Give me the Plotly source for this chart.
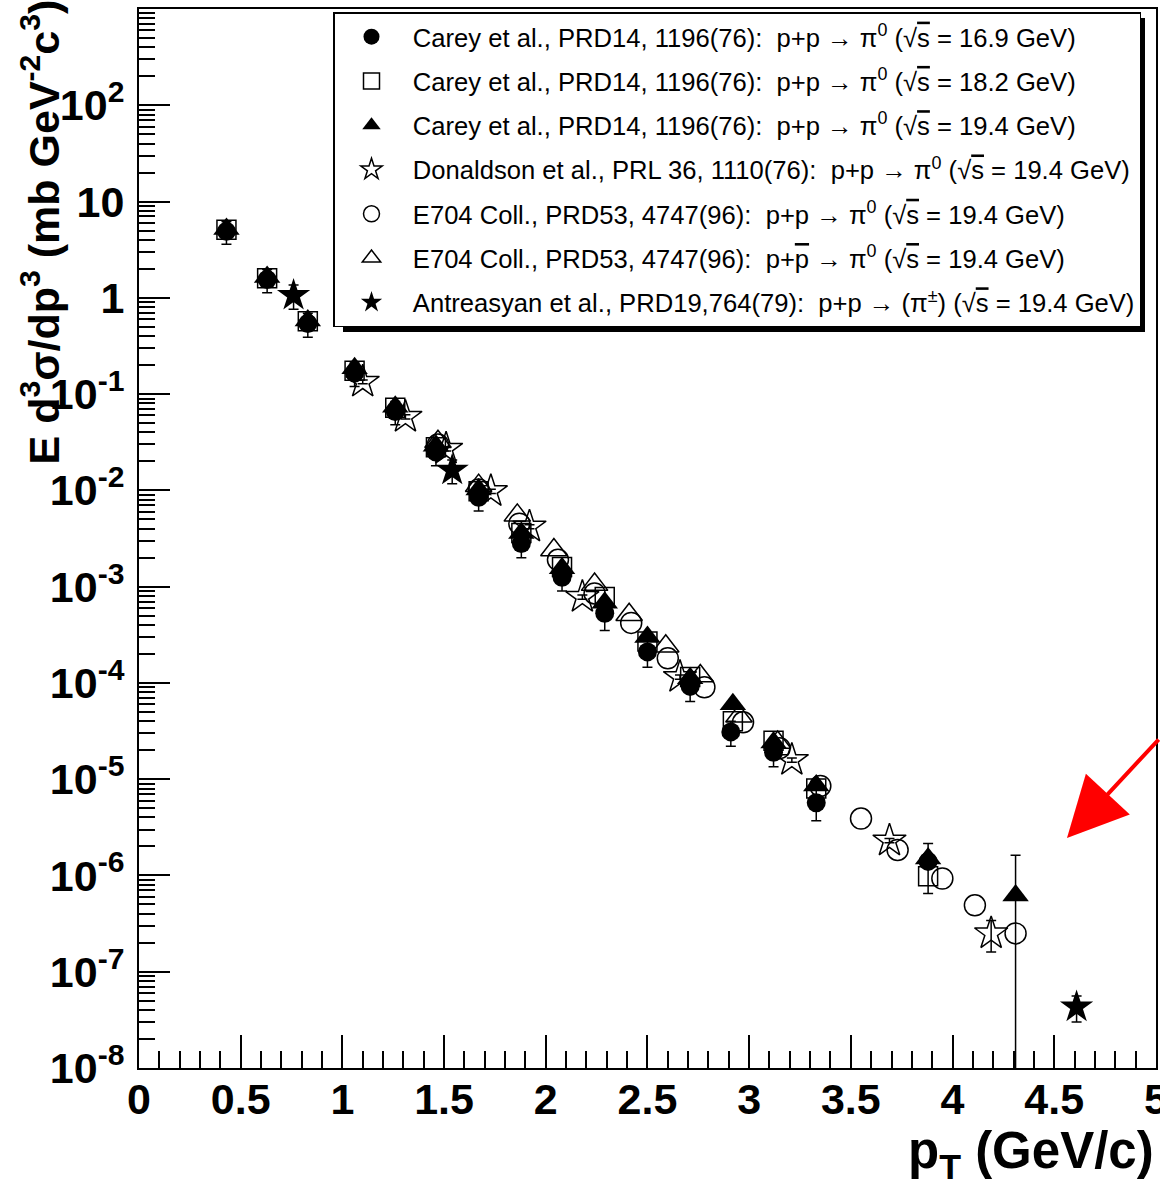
import plotly.graph_objects as go

# ---------------- data ----------------
pt_c169 = [0.43, 0.63, 0.83, 1.06, 1.26, 1.46, 1.67, 1.88, 2.08, 2.29, 2.50, 2.71, 2.91, 3.12, 3.33, 3.88]
y_c169 = [4.9, 1.55, 0.54, 0.165, 0.066, 0.025, 0.0085, 0.0028, 0.00125, 0.00053, 0.00021, 9.2e-5, 3.1e-5, 1.9e-5, 5.7e-6, 1.4e-6]
e_c169 = [1.3, 0.42, 0.15, 0.045, 0.018, 0.007, 0.0024, 0.0008, 0.00035, 0.00018, 6.5e-5, 2.8e-5, 9e-6, 5.5e-6, 2.0e-6, 7.5e-7]

pt_c182 = [0.43, 0.63, 0.83, 1.06, 1.26, 1.46, 1.67, 1.88, 2.08, 2.29, 2.50, 2.71, 2.92, 3.12, 3.33, 3.88]
y_c182 = [5.1, 1.6, 0.57, 0.175, 0.072, 0.028, 0.0098, 0.0036, 0.0016, 0.00078, 0.00027, 0.000115, 4.0e-5, 2.5e-5, 8.0e-6, 9.8e-7]

pt_c194 = [0.43, 0.63, 0.83, 1.06, 1.26, 1.46, 1.67, 1.88, 2.08, 2.29, 2.50, 2.71, 2.92, 3.12, 3.33, 3.88, 4.31]
y_c194 = [5.2, 1.65, 0.58, 0.185, 0.074, 0.029, 0.0102, 0.0036, 0.00155, 0.00068, 0.0003, 0.000112, 6.0e-5, 2.4e-5, 8.6e-6, 1.5e-6, 6.2e-7]
ep_c194 = [0.4, 0.13, 0.05, 0.015, 0.006, 0.0025, 0.0009, 0.0003, 0.00013, 6e-5, 2.5e-5, 1.0e-5, 5e-6, 2e-6, 8e-7, 1.5e-7, 1.0e-6]
em_c194 = [0.4, 0.13, 0.05, 0.015, 0.006, 0.0025, 0.0009, 0.0003, 0.00013, 6e-5, 2.5e-5, 1.0e-5, 5e-6, 2e-6, 8e-7, 1.5e-7, 6.2e-7]

pt_don = [1.10, 1.31, 1.51, 1.73, 1.92, 2.18, 2.66, 3.21, 3.69, 4.19]
y_don = [0.134, 0.058, 0.027, 0.0098, 0.0042, 0.00078, 0.000115, 1.58e-5, 2.3e-6, 2.5e-7]
e_don = [0.006, 0.003, 0.0013, 0.0005, 0.0002, 4e-5, 6e-6, 8e-7, 1.2e-7, 9e-8]

pt_e704pp = [1.47, 1.67, 1.87, 2.06, 2.24, 2.42, 2.60, 2.78, 2.97, 3.15, 3.35, 3.55, 3.73, 3.95, 4.11, 4.31]
y_e704pp = [0.030, 0.0102, 0.0045, 0.0019, 0.00085, 0.00042, 0.00018, 9.0e-5, 3.9e-5, 2.1e-5, 8.5e-6, 3.9e-6, 1.84e-6, 9.3e-7, 4.9e-7, 2.5e-7]

pt_e704pbar = [1.47, 1.67, 1.86, 2.04, 2.24, 2.41, 2.59, 2.76, 2.95, 3.14]
y_e704pbar = [0.032, 0.0112, 0.0055, 0.0024, 0.00105, 0.00051, 0.00024, 0.000118, 4.5e-5, 2.4e-5]

pt_ant = [0.76, 1.54, 4.61]
y_ant = [1.06, 0.0162, 4.3e-8]
e_ant = [0.3, 0.0045, 1.3e-8]

OL = "<span style='text-decoration:overline'>%s</span>"
names = [
    "Carey et al., PRD14, 1196(76):  p+p \u2192 \u03c0<sup>0</sup> (\u221a" + OL % "s" + " = 16.9 GeV)",
    "Carey et al., PRD14, 1196(76):  p+p \u2192 \u03c0<sup>0</sup> (\u221a" + OL % "s" + " = 18.2 GeV)",
    "Carey et al., PRD14, 1196(76):  p+p \u2192 \u03c0<sup>0</sup> (\u221a" + OL % "s" + " = 19.4 GeV)",
    "Donaldson et al., PRL 36, 1110(76):  p+p \u2192 \u03c0<sup>0</sup> (\u221a" + OL % "s" + " = 19.4 GeV)",
    "E704 Coll., PRD53, 4747(96):  p+p \u2192 \u03c0<sup>0</sup> (\u221a" + OL % "s" + " = 19.4 GeV)",
    "E704 Coll., PRD53, 4747(96):  p+" + OL % "p" + " \u2192 \u03c0<sup>0</sup> (\u221a" + OL % "s" + " = 19.4 GeV)",
    "Antreasyan et al., PRD19,764(79):  p+p \u2192 (\u03c0<sup>\u00b1</sup>) (\u221a" + OL % "s" + " = 19.4 GeV)",
]

ytick_vals = [1e-8, 1e-7, 1e-6, 1e-5, 1e-4, 1e-3, 1e-2, 1e-1, 1, 10, 100]
ytick_text = ["10<sup>-8</sup>", "10<sup>-7</sup>", "10<sup>-6</sup>", "10<sup>-5</sup>", "10<sup>-4</sup>",
              "10<sup>-3</sup>", "10<sup>-2</sup>", "10<sup>-1</sup>", "1", "10", "10<sup>2</sup>"]

# ---------------- layout geometry ----------------
W, H = 1160, 1183
L, R, T, B = 139, 4, 9, 115
PW, PH = W - L - R, H - T - B


def px(xp):
    return (xp - L) / PW


def py(yp):
    return (H - B - yp) / PH


PAD = "\u00a0\u00a0\u00a0"
fig = go.Figure()


def err(arr, arrm=None):
    d = dict(type="data", array=arr, color="black", thickness=1.5, width=5)
    if arrm is not None:
        d["symmetric"] = False
        d["arrayminus"] = arrm
    return d


common = dict(mode="markers")
fig.add_trace(go.Scatter(x=pt_c169, y=y_c169, name=PAD + names[0], error_y=err(e_c169),
                         marker=dict(symbol="circle", size=19, color="black"), legendgroup="a", **common))
fig.add_trace(go.Scatter(x=pt_c182, y=y_c182, name=PAD + names[1],
                         marker=dict(symbol="square-open", size=19, color="black", line=dict(width=1.5)),
                         legendgroup="b", **common))
fig.add_trace(go.Scatter(x=pt_c194, y=y_c194, name=PAD + names[2], error_y=err(ep_c194, em_c194),
                         marker=dict(symbol="triangle-up", size=23, color="black"), legendgroup="c", **common))
fig.add_trace(go.Scatter(x=pt_don, y=y_don, name=PAD + names[3], error_y=err(e_don),
                         marker=dict(symbol="star-open", size=25, color="black", line=dict(width=1.5)),
                         legendgroup="d", **common))
fig.add_trace(go.Scatter(x=pt_e704pp, y=y_e704pp, name=PAD + names[4],
                         marker=dict(symbol="circle-open", size=21, color="black", line=dict(width=1.5)),
                         legendgroup="e", **common))
fig.add_trace(go.Scatter(x=pt_e704pbar, y=y_e704pbar, name=PAD + names[5],
                         marker=dict(symbol="triangle-up-open", size=23, color="black", line=dict(width=1.5)),
                         legendgroup="f", **common))
fig.add_trace(go.Scatter(x=pt_ant, y=y_ant, name=PAD + names[6], error_y=err(e_ant),
                         marker=dict(symbol="star", size=25, color="black"), legendgroup="g", **common))

tickfont = dict(family="Liberation Sans, Arial", size=43, color="black", weight="bold")

LEG_TOP = 12
LEG_BOT = 326
fig.update_layout(
    width=W, height=H,
    margin=dict(l=L, r=R, t=T, b=B, autoexpand=False),
    paper_bgcolor="white", plot_bgcolor="white",
    showlegend=True,
    legend=dict(x=px(1141), xanchor="right", y=py(LEG_TOP), yanchor="top",
                bgcolor="white", bordercolor="black", borderwidth=1.5,
                font=dict(family="Liberation Sans, Arial", size=25.6, color="black"),
                tracegroupgap=8, traceorder="grouped", itemsizing="trace", indentation=17),
    xaxis=dict(range=[0, 5.0005], showgrid=False, zeroline=False,
               showline=True, linecolor="black", linewidth=2, mirror=True,
               ticks="inside", ticklen=33, tickwidth=1.5, tickcolor="black", dtick=0.5, tick0=0,
               tickfont=tickfont, ticklabelstandoff=-8, ticklabeloverflow="allow",
               minor=dict(ticks="inside", ticklen=17, tickwidth=1.5, tickcolor="black", dtick=0.1, showgrid=False)),
    yaxis=dict(type="log", range=[-8, 3], showgrid=False, zeroline=False,
               showline=True, linecolor="black", linewidth=2, mirror=True,
               ticks="inside", ticklen=31, tickwidth=1.5, tickcolor="black",
               tickvals=ytick_vals, ticktext=ytick_text, tickfont=tickfont, ticklabelstandoff=4,
               minor=dict(ticks="inside", ticklen=16, tickwidth=1.5, tickcolor="black", dtick="D1", showgrid=False)),
)

# legend shadow (sits behind the legend box, offset down-right)
fig.add_shape(type="rect", xref="paper", yref="paper", x0=px(343), x1=px(1145), y0=py(LEG_BOT + 6), y1=py(LEG_TOP + 6),
              fillcolor="black", line=dict(width=0), layer="above")

# axis titles
fig.add_annotation(text="E d<sup>3</sup>\u03c3/dp<sup>3</sup> (mb GeV<sup>-2</sup>c<sup>3</sup>)",
                   xref="paper", yref="paper", x=px(40), y=py(-2), xanchor="center", yanchor="top",
                   textangle=-90, showarrow=False,
                   font=dict(family="Liberation Sans, Arial", size=43, color="black", weight="bold"))
fig.add_annotation(text="p<sub>T</sub> (GeV/c)", xref="paper", yref="paper", x=px(1156), y=py(1120),
                   xanchor="right", yanchor="top", showarrow=False,
                   font=dict(family="Liberation Sans, Arial", size=51, color="black", weight="bold"))

# red arrow
fig.add_annotation(text="", xref="paper", yref="paper", x=px(1067), y=py(838), ax=100, ay=-100,
                   showarrow=True, arrowhead=2, arrowsize=3, arrowwidth=4, arrowcolor="red")

fig.write_html("out.html", post_script="document.body.style.margin='0px';",
               config={"displayModeBar": False})
